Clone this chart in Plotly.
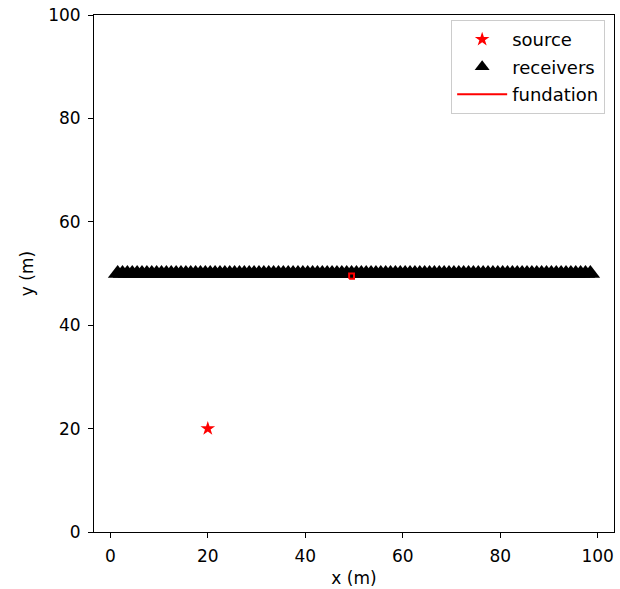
import plotly.graph_objects as go

source_x = [20]
source_y = [20]
receivers_x = [1.5, 2.5, 3.5, 4.5, 5.5, 6.5, 7.5, 8.5, 9.5, 10.5, 11.5, 12.5, 13.5, 14.5,
               15.5, 16.5, 17.5, 18.5, 19.5, 20.5, 21.5, 22.5, 23.5, 24.5, 25.5, 26.5, 27.5,
               28.5, 29.5, 30.5, 31.5, 32.5, 33.5, 34.5, 35.5, 36.5, 37.5, 38.5, 39.5, 40.5,
               41.5, 42.5, 43.5, 44.5, 45.5, 46.5, 47.5, 48.5, 49.5, 50.5, 51.5, 52.5, 53.5,
               54.5, 55.5, 56.5, 57.5, 58.5, 59.5, 60.5, 61.5, 62.5, 63.5, 64.5, 65.5, 66.5,
               67.5, 68.5, 69.5, 70.5, 71.5, 72.5, 73.5, 74.5, 75.5, 76.5, 77.5, 78.5, 79.5,
               80.5, 81.5, 82.5, 83.5, 84.5, 85.5, 86.5, 87.5, 88.5, 89.5, 90.5, 91.5, 92.5,
               93.5, 94.5, 95.5, 96.5, 97.5, 98.5]
receivers_y = [50] * len(receivers_x)
fundation_x = [49, 50, 50, 49, 49]
fundation_y = [49, 49, 50, 50, 49]
tick_vals = [0, 20, 40, 60, 80, 100]

font = dict(family="DejaVu Sans", size=17, color="black")
legend_font = dict(family="DejaVu Sans", size=18, color="black")

fig = go.Figure()
# plotted marks
fig.add_trace(go.Scatter(x=source_x, y=source_y, mode="markers", showlegend=False,
                         marker=dict(symbol="star", size=11, color="red", line=dict(width=0))))
fig.add_trace(go.Scatter(x=receivers_x, y=receivers_y, mode="markers", showlegend=False,
                         marker=dict(symbol="triangle-up", size=17, color="black", line=dict(width=0))))
fig.add_trace(go.Scatter(x=fundation_x, y=fundation_y, mode="lines", showlegend=False,
                         line=dict(color="red", width=2)))
# legend entries
fig.add_trace(go.Scatter(x=[None], y=[None], mode="markers", name="source", legendgroup="a",
                         marker=dict(symbol="star", size=11, color="red", line=dict(width=0))))
fig.add_trace(go.Scatter(x=[None], y=[None], mode="markers", name="receivers", legendgroup="b",
                         marker=dict(symbol="triangle-up", size=13, color="black", line=dict(width=0))))
fig.add_trace(go.Scatter(x=[None], y=[None], mode="lines", name="fundation", legendgroup="c",
                         line=dict(color="red", width=2)))

axis_common = dict(showgrid=False, zeroline=False, showline=True, linecolor="black", linewidth=1,
                   mirror=True, ticks="outside", ticklen=5, tickwidth=1, tickcolor="black",
                   tickfont=font, tickvals=tick_vals, ticklabelstandoff=4)
fig.update_layout(
    width=620, height=589,
    margin=dict(l=94, r=5, t=13, b=57),
    paper_bgcolor="white", plot_bgcolor="white",
    font=font,
    xaxis=dict(range=[-3.35, 103.35], title=dict(text="x (m)", font=font, standoff=6), **axis_common),
    yaxis=dict(range=[0, 100], title=dict(text="y (m)", font=font, standoff=10), **axis_common),
    legend=dict(x=0.983, y=0.99, xanchor="right", yanchor="top", bgcolor="white",
                bordercolor="#cccccc", borderwidth=1, font=legend_font, itemwidth=50,
                tracegroupgap=1),
    showlegend=True,
)

fig.write_html("out.html", config={"displayModeBar": False},
               post_script="document.body.style.margin='0px';")
